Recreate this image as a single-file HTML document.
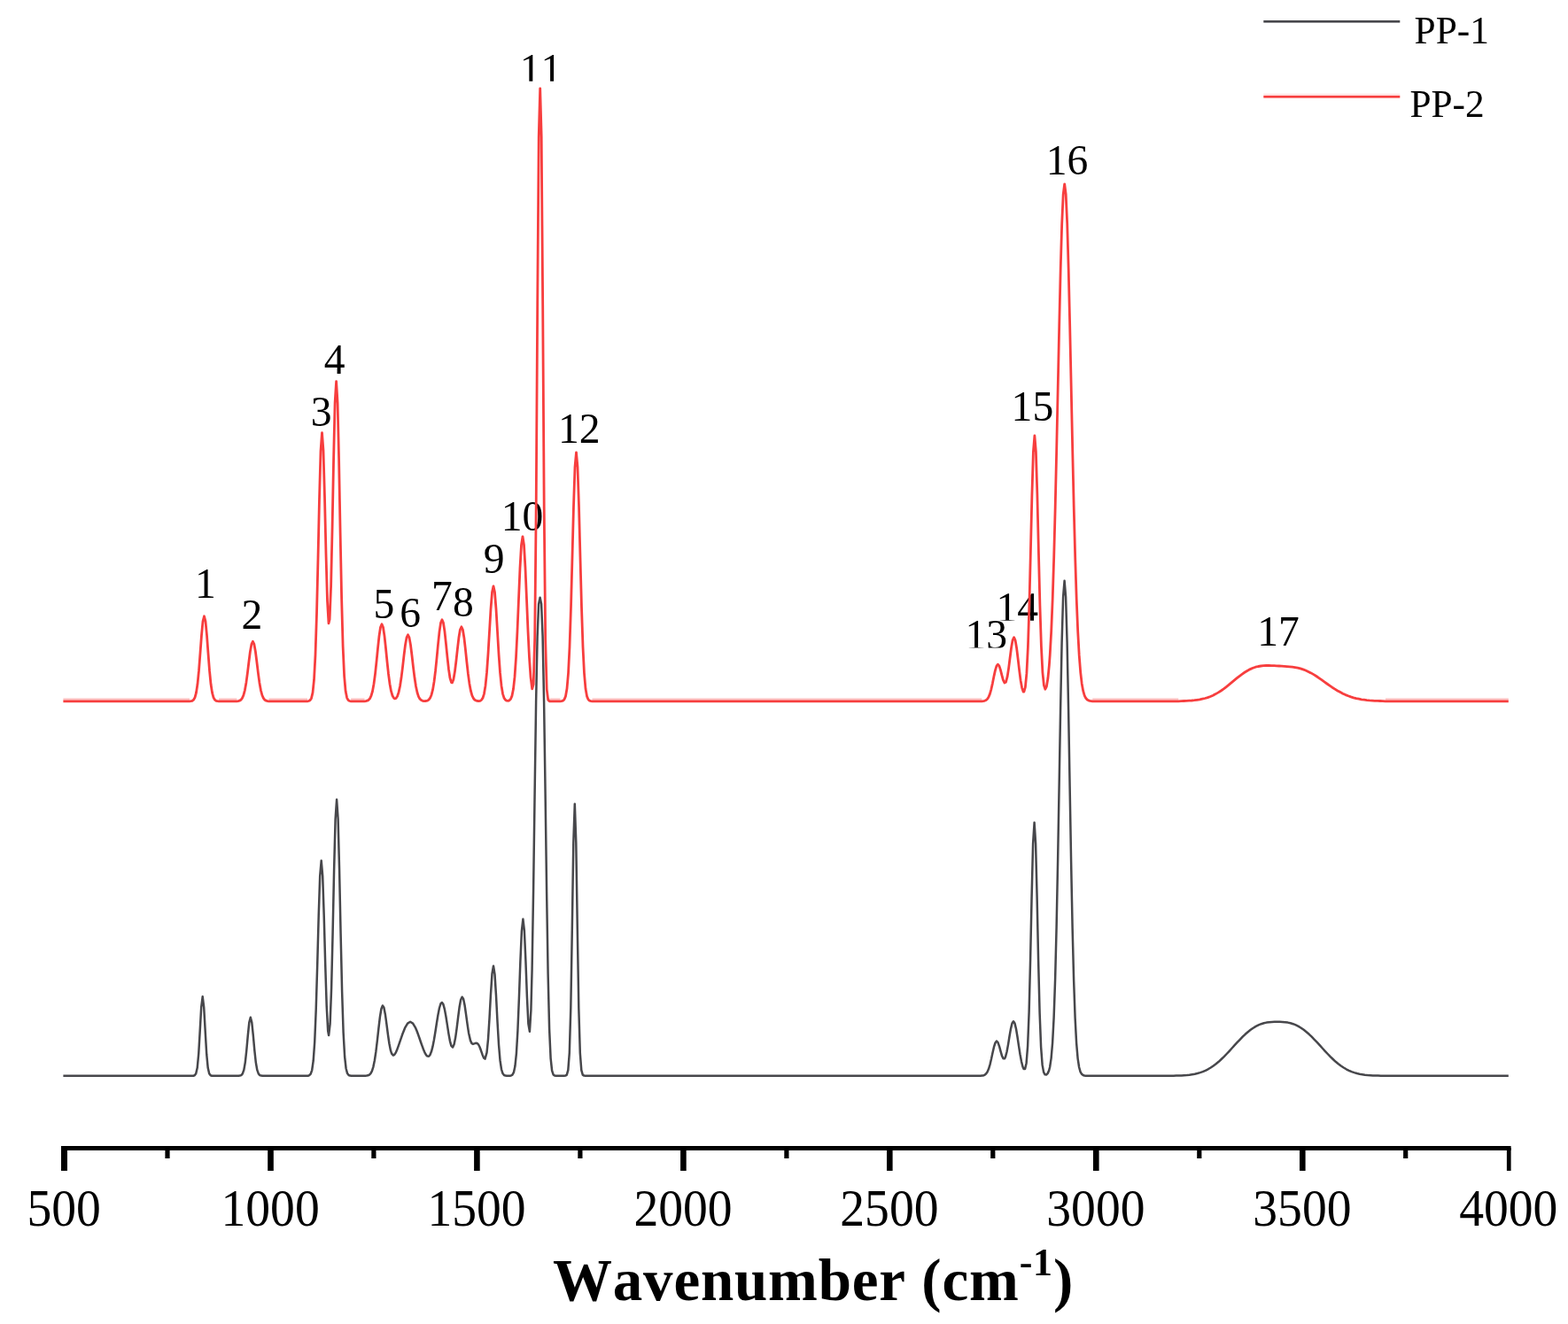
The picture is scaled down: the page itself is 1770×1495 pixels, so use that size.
<!DOCTYPE html>
<html lang="en">
<head>
<meta charset="utf-8">
<title>Wavenumber spectrum PP-1 / PP-2</title>
<style>
html,body{margin:0;padding:0;background:#fff;}
body{width:1770px;height:1495px;overflow:hidden;}
svg{display:block;}
text{font-family:"Liberation Serif","DejaVu Serif",serif;fill:#000;font-kerning:none;}
.lab{font-size:47.6px;text-anchor:middle;}
.tick{font-size:59.5px;text-anchor:middle;}
.leg{font-size:44.5px;}
.ttl{font-size:67px;font-weight:bold;letter-spacing:0.8px;font-kerning:none;}
</style>
</head>
<body>
<svg width="1770" height="1495" viewBox="0 0 1770 1495">
<rect width="1770" height="1495" fill="#fff"/>
<g fill="#000">
<rect x="69.0" y="1294" width="1636.6" height="5"/>
<rect x="69.0" y="1296" width="7.0" height="26"/>
<rect x="186.4" y="1296" width="5.2" height="12"/>
<rect x="302.2" y="1296" width="6.6" height="26"/>
<rect x="419.3" y="1296" width="5.2" height="12"/>
<rect x="535.1" y="1296" width="6.6" height="26"/>
<rect x="652.3" y="1296" width="5.2" height="12"/>
<rect x="768.1" y="1296" width="6.6" height="26"/>
<rect x="885.3" y="1296" width="5.2" height="12"/>
<rect x="1001.0" y="1296" width="6.6" height="26"/>
<rect x="1118.2" y="1296" width="5.2" height="12"/>
<rect x="1234.0" y="1296" width="6.6" height="26"/>
<rect x="1351.2" y="1296" width="5.2" height="12"/>
<rect x="1467.0" y="1296" width="6.6" height="26"/>
<rect x="1584.1" y="1296" width="5.2" height="12"/>
<rect x="1700.9" y="1296" width="4.7" height="26"/>
</g>
<text class="tick" transform="translate(72.1 1383.8) scale(0.935 1)">500</text>
<text class="tick" transform="translate(305.1 1383.8) scale(0.935 1)">1000</text>
<text class="tick" transform="translate(538.0 1383.8) scale(0.935 1)">1500</text>
<text class="tick" transform="translate(771.0 1383.8) scale(0.935 1)">2000</text>
<text class="tick" transform="translate(1003.9 1383.8) scale(0.935 1)">2500</text>
<text class="tick" transform="translate(1236.9 1383.8) scale(0.935 1)">3000</text>
<text class="tick" transform="translate(1469.9 1383.8) scale(0.935 1)">3500</text>
<text class="tick" transform="translate(1702.8 1383.8) scale(0.935 1)">4000</text>
<text class="lab" x="231.8" y="674.6">1</text>
<text class="lab" x="284.4" y="710.0">2</text>
<text class="lab" x="362.6" y="481.0">3</text>
<text class="lab" x="377.7" y="421.5">4</text>
<text class="lab" x="433.4" y="698.0">5</text>
<text class="lab" x="463.2" y="707.6">6</text>
<text class="lab" x="499.0" y="689.0">7</text>
<text class="lab" x="523.0" y="695.8">8</text>
<text class="lab" x="557.6" y="646.6">9</text>
<text class="lab" x="589.5" y="599.4">10</text>
<svg x="570.6" y="60.9" width="80" height="30.9" overflow="hidden"><text class="lab" x="40" y="32.9">11</text></svg>
<text class="lab" x="653.7" y="499.7">12</text>
<svg x="1073.3" y="701.1" width="80" height="30.5" overflow="hidden"><text class="lab" x="40" y="31.8">13</text></svg>
<svg x="1108.2" y="670.2" width="80" height="30.5" overflow="hidden"><text class="lab" x="40" y="32.0">14</text></svg>
<text class="lab" x="1165.4" y="474.6">15</text>
<text class="lab" x="1204.6" y="197.4">16</text>
<text class="lab" x="1443.1" y="728.6">17</text>
<path d="M71.4 1214.8 L218.2 1214.8 L219.7 1214.3 L221.2 1212.3 L222.7 1205.8 L224.2 1190.2 L225.7 1164.4 L227.2 1137.3 L228.7 1125.3 L230.2 1137.3 L231.7 1164.4 L233.2 1190.2 L234.7 1205.8 L236.2 1212.3 L237.7 1214.3 L239.2 1214.8 L269.3 1214.8 L270.8 1214.6 L272.3 1214.1 L273.8 1212.4 L275.3 1208.2 L276.8 1199.6 L278.3 1185.9 L279.8 1169.1 L281.3 1154.6 L282.8 1148.8 L284.3 1154.6 L285.8 1169.1 L287.3 1185.9 L288.8 1199.6 L290.3 1208.2 L291.8 1212.4 L293.3 1214.1 L294.8 1214.6 L296.3 1214.8 L347.7 1214.8 L349.2 1214.2 L350.7 1212.7 L352.2 1208.3 L353.7 1197.8 L355.2 1176.6 L356.7 1140.4 L358.2 1089.9 L359.7 1034.0 L361.2 989.1 L362.7 971.8 L364.2 989.0 L365.7 1033.7 L367.2 1088.6 L368.7 1136.0 L370.2 1164.1 L371.1 1169.1 L372.6 1156.0 L374.1 1115.9 L375.6 1053.4 L377.1 982.4 L378.6 925.0 L380.1 902.8 L381.6 925.0 L383.1 982.7 L384.6 1054.5 L386.1 1119.3 L387.6 1165.7 L389.1 1193.0 L390.6 1206.5 L392.1 1212.1 L393.6 1214.0 L395.1 1214.6 L396.6 1214.8 L412.4 1214.8 L413.9 1214.6 L415.4 1214.3 L416.9 1213.6 L418.4 1212.1 L419.9 1209.3 L421.4 1204.6 L422.9 1197.3 L424.4 1187.2 L425.9 1174.6 L427.4 1161.0 L428.9 1148.4 L430.4 1139.3 L431.9 1135.5 L433.4 1137.8 L434.9 1145.4 L436.4 1156.3 L437.9 1168.0 L439.4 1178.3 L440.9 1185.9 L442.1 1189.7 L443.9 1191.7 L445.1 1191.2 L446.9 1188.3 L448.1 1185.6 L449.9 1180.6 L451.1 1177.1 L452.9 1171.8 L454.1 1168.3 L457.1 1160.7 L460.1 1155.6 L463.1 1153.8 L466.1 1155.6 L469.1 1160.7 L470.4 1163.8 L472.1 1168.3 L473.4 1172.0 L475.1 1177.0 L476.4 1180.7 L478.1 1185.3 L479.4 1188.3 L481.1 1191.3 L482.4 1192.6 L484.1 1192.7 L485.4 1191.2 L486.9 1187.6 L488.4 1181.9 L489.9 1174.3 L491.4 1165.2 L492.9 1155.5 L494.4 1146.2 L495.9 1138.5 L497.4 1133.5 L498.9 1132.0 L500.4 1134.1 L501.9 1139.6 L503.4 1147.8 L504.9 1157.4 L506.4 1167.1 L507.9 1175.3 L509.4 1180.8 L511.1 1182.5 L512.6 1179.3 L514.1 1171.8 L515.6 1161.1 L517.1 1148.8 L518.6 1137.3 L520.1 1129.0 L521.6 1125.7 L523.1 1128.0 L524.6 1135.3 L526.1 1145.6 L527.6 1156.7 L529.1 1166.5 L531.0 1174.9 L532.5 1178.1 L534.0 1178.9 L535.5 1178.4 L537.0 1177.8 L538.5 1177.9 L540.0 1179.3 L541.5 1182.2 L543.0 1186.3 L544.5 1190.7 L546.0 1194.4 L547.5 1195.6 L549.5 1188.6 L551.0 1173.6 L552.5 1150.0 L554.0 1122.3 L555.5 1099.4 L557.0 1090.7 L558.5 1100.2 L560.0 1124.2 L561.5 1153.5 L563.0 1179.3 L564.5 1197.2 L566.0 1207.3 L567.5 1212.1 L569.0 1214.0 L570.5 1214.6 L572.0 1214.8 L575.4 1214.8 L576.9 1214.5 L578.4 1213.6 L579.9 1210.9 L581.4 1204.1 L582.9 1189.6 L584.4 1163.9 L585.9 1127.0 L587.4 1085.2 L588.9 1051.1 L590.4 1037.8 L591.9 1051.0 L593.4 1084.8 L594.9 1125.1 L596.4 1156.1 L597.9 1164.8 L599.4 1141.0 L600.6 1094.5 L602.1 1005.1 L603.6 896.2 L605.1 793.1 L606.6 718.7 L608.1 682.1 L609.6 674.8 L611.1 682.1 L612.6 718.7 L614.1 793.2 L615.6 896.6 L617.1 1006.7 L618.6 1099.4 L620.1 1161.6 L621.6 1194.8 L623.1 1208.8 L624.6 1213.4 L626.1 1214.5 L627.6 1214.8 L636.8 1214.8 L638.3 1214.6 L639.8 1213.6 L641.3 1208.3 L642.8 1188.8 L644.3 1138.2 L645.8 1049.2 L647.3 951.7 L648.8 907.8 L650.3 951.7 L651.8 1049.2 L653.3 1138.2 L654.8 1188.8 L656.3 1208.3 L657.8 1213.6 L659.3 1214.6 L660.8 1214.8 L1107.0 1214.8 L1108.5 1214.6 L1110.0 1214.4 L1111.5 1213.8 L1113.0 1212.6 L1114.5 1210.5 L1116.0 1207.1 L1117.5 1202.1 L1119.0 1195.8 L1120.5 1188.8 L1122.0 1182.2 L1123.5 1177.5 L1125.0 1175.6 L1126.5 1177.1 L1128.0 1181.3 L1129.5 1186.9 L1131.0 1192.1 L1132.5 1195.2 L1134.0 1195.3 L1135.0 1193.4 L1136.5 1187.8 L1138.0 1179.6 L1139.5 1170.2 L1141.0 1161.6 L1142.5 1155.5 L1144.0 1153.3 L1145.5 1155.5 L1147.0 1161.8 L1148.5 1170.8 L1150.0 1180.9 L1151.5 1190.5 L1153.0 1198.6 L1154.5 1204.5 L1155.6 1207.0 L1157.1 1207.1 L1158.6 1200.4 L1160.1 1181.3 L1161.6 1143.1 L1163.1 1083.7 L1164.6 1012.6 L1166.1 952.6 L1167.6 928.8 L1169.1 952.6 L1170.6 1012.7 L1172.1 1083.9 L1173.6 1143.5 L1175.1 1182.1 L1176.6 1202.2 L1178.1 1210.6 L1179.6 1213.3 L1181.1 1213.5 L1182.6 1212.1 L1184.1 1208.9 L1185.1 1205.0 L1186.6 1195.1 L1188.1 1177.6 L1189.6 1149.1 L1191.1 1106.2 L1192.6 1047.1 L1194.1 972.5 L1195.6 887.4 L1197.1 801.1 L1198.6 725.8 L1200.1 674.2 L1201.6 655.8 L1203.1 674.2 L1204.6 725.8 L1206.1 801.1 L1207.6 887.4 L1209.1 972.5 L1210.6 1047.1 L1212.1 1106.2 L1213.6 1149.1 L1215.1 1177.6 L1216.6 1195.1 L1218.1 1205.0 L1219.6 1210.3 L1221.1 1212.8 L1222.6 1214.0 L1224.1 1214.5 L1225.6 1214.8 L1324.7 1214.8 L1327.7 1214.6 L1330.7 1214.5 L1333.7 1214.4 L1336.7 1214.2 L1339.7 1214.0 L1342.7 1213.7 L1345.7 1213.2 L1348.7 1212.7 L1351.7 1212.0 L1354.7 1211.1 L1357.7 1210.1 L1360.7 1208.8 L1363.7 1207.3 L1366.7 1205.5 L1369.7 1203.5 L1372.7 1201.3 L1375.7 1198.8 L1378.7 1196.0 L1381.7 1193.1 L1384.7 1190.0 L1387.7 1186.8 L1390.7 1183.5 L1393.7 1180.2 L1396.7 1176.9 L1399.7 1173.8 L1402.7 1170.7 L1405.7 1167.8 L1408.7 1165.2 L1411.7 1162.8 L1414.7 1160.7 L1417.7 1158.9 L1420.7 1157.4 L1423.7 1156.2 L1426.7 1155.3 L1429.7 1154.6 L1432.7 1154.2 L1435.7 1153.9 L1438.7 1153.8 L1441.7 1153.8 L1444.7 1153.8 L1447.7 1153.9 L1450.7 1154.2 L1453.7 1154.6 L1456.7 1155.3 L1459.7 1156.2 L1462.7 1157.4 L1465.7 1158.9 L1468.7 1160.7 L1471.7 1162.8 L1474.7 1165.2 L1477.7 1167.8 L1480.7 1170.7 L1483.7 1173.8 L1486.7 1176.9 L1489.7 1180.2 L1492.7 1183.5 L1495.7 1186.8 L1498.7 1190.0 L1501.7 1193.1 L1504.7 1196.0 L1507.7 1198.8 L1510.7 1201.3 L1513.7 1203.5 L1516.7 1205.5 L1519.7 1207.3 L1522.7 1208.8 L1525.7 1210.1 L1528.7 1211.1 L1531.7 1212.0 L1534.7 1212.7 L1537.7 1213.2 L1540.7 1213.7 L1543.7 1214.0 L1546.7 1214.2 L1549.7 1214.4 L1552.7 1214.5 L1555.7 1214.6 L1558.7 1214.8 L1702.8 1214.8" fill="none" stroke="#47474b" stroke-width="2.5" stroke-linejoin="round" stroke-linecap="butt"/>
<rect x="71.4" y="788.4" width="142.6" height="2.3" fill="#f73e3e" fill-opacity="0.3"/>
<rect x="247.0" y="788.4" width="20.4" height="2.3" fill="#f73e3e" fill-opacity="0.3"/>
<rect x="303.4" y="788.4" width="43.6" height="2.3" fill="#f73e3e" fill-opacity="0.3"/>
<rect x="396.1" y="788.4" width="15.4" height="2.3" fill="#f73e3e" fill-opacity="0.3"/>
<rect x="620.2" y="788.4" width="12.3" height="2.3" fill="#f73e3e" fill-opacity="0.3"/>
<rect x="668.5" y="788.4" width="439.9" height="2.3" fill="#f73e3e" fill-opacity="0.3"/>
<rect x="1233.2" y="788.4" width="97.1" height="2.3" fill="#f73e3e" fill-opacity="0.3"/>
<rect x="1563.9" y="788.4" width="138.9" height="2.3" fill="#f73e3e" fill-opacity="0.3"/>
<path d="M71.4 791.8 L214.0 791.8 L215.5 791.6 L217.0 791.3 L218.5 790.2 L220.0 787.6 L221.5 782.1 L223.0 772.3 L224.5 757.2 L226.0 737.7 L227.5 717.4 L229.0 701.7 L230.5 695.8 L232.0 701.7 L233.5 717.4 L235.0 737.7 L236.5 757.2 L238.0 772.3 L239.5 782.1 L241.0 787.6 L242.5 790.2 L244.0 791.3 L245.5 791.6 L247.0 791.8 L267.4 791.8 L268.9 791.6 L270.4 791.2 L271.9 790.3 L273.4 788.4 L274.9 785.0 L276.4 779.3 L277.9 770.9 L279.4 759.9 L280.9 747.5 L282.4 735.8 L283.9 727.4 L285.4 724.3 L286.9 727.4 L288.4 735.8 L289.9 747.5 L291.4 759.9 L292.9 770.9 L294.4 779.3 L295.9 785.0 L297.4 788.4 L298.9 790.3 L300.4 791.2 L301.9 791.6 L303.4 791.8 L347.0 791.8 L348.5 791.5 L350.0 790.8 L351.5 788.4 L353.0 782.1 L354.5 767.7 L356.0 739.6 L357.5 693.4 L359.0 630.9 L360.5 563.1 L362.0 509.4 L363.5 488.7 L365.0 508.9 L366.5 561.4 L368.0 625.5 L369.5 678.5 L371.0 703.8 L372.1 699.5 L373.6 662.1 L375.1 595.6 L376.6 517.9 L378.1 454.9 L379.6 430.7 L381.1 455.3 L382.6 519.3 L384.1 600.1 L385.6 674.6 L387.1 729.6 L388.6 763.1 L390.1 780.3 L391.6 787.8 L393.1 790.6 L394.6 791.5 L396.1 791.8 L411.5 791.8 L413.0 791.6 L414.5 791.2 L416.0 790.4 L417.5 788.8 L419.0 785.7 L420.5 780.5 L422.0 772.3 L423.5 761.1 L425.0 747.1 L426.5 732.0 L428.0 718.1 L429.5 708.3 L431.0 704.8 L432.5 708.3 L434.0 718.1 L435.5 732.0 L437.0 747.1 L438.5 761.0 L440.0 772.3 L441.5 780.4 L443.0 785.5 L444.5 788.1 L445.5 788.8 L447.0 788.5 L448.5 786.3 L450.0 781.9 L451.5 775.0 L453.0 765.3 L454.5 753.3 L456.0 740.2 L457.5 728.3 L459.0 719.9 L460.5 716.8 L462.0 719.9 L463.5 728.3 L465.0 740.2 L466.5 753.3 L468.0 765.3 L469.5 775.0 L471.0 782.0 L472.5 786.6 L474.0 789.2 L475.5 790.6 L477.0 791.3 L478.5 791.6 L479.5 791.6 L481.0 791.5 L482.5 791.1 L484.0 790.1 L485.5 788.2 L487.0 784.7 L488.5 778.9 L490.0 770.0 L491.5 758.0 L493.0 743.3 L494.5 727.6 L496.0 713.4 L497.5 703.4 L499.0 699.8 L500.5 703.4 L502.0 713.3 L503.5 727.3 L505.0 742.4 L506.5 755.9 L508.0 765.7 L509.5 770.6 L510.4 770.9 L511.9 767.2 L513.4 758.6 L514.9 746.5 L516.4 732.8 L517.9 720.1 L519.4 711.0 L520.9 707.8 L522.4 711.1 L523.9 720.2 L525.4 733.2 L526.9 747.5 L528.4 760.9 L529.9 771.9 L531.4 780.0 L532.9 785.3 L534.4 788.5 L535.9 790.3 L537.4 791.1 L538.9 791.5 L540.5 791.6 L542.0 791.3 L543.5 790.3 L545.0 788.1 L546.5 783.3 L548.0 774.2 L549.5 759.4 L551.0 738.4 L552.5 713.0 L554.0 687.7 L555.5 668.8 L557.0 661.8 L558.5 668.8 L560.0 687.7 L561.5 713.0 L563.0 738.4 L564.5 759.4 L566.0 774.2 L567.5 783.3 L569.0 788.1 L570.5 790.3 L572.0 791.2 L573.5 791.3 L575.0 790.8 L576.5 789.3 L578.0 785.6 L579.5 778.1 L581.0 764.4 L582.5 742.6 L584.0 712.4 L585.5 676.5 L587.0 641.4 L588.5 615.4 L590.0 605.8 L591.5 615.4 L593.0 641.4 L594.5 676.5 L596.0 712.4 L597.5 742.6 L599.0 764.3 L600.7 777.8 L602.2 772.6 L603.7 720.0 L605.2 572.3 L606.7 343.8 L608.2 154.5 L609.7 99.8 L611.2 154.6 L612.7 344.0 L614.2 573.1 L615.7 722.2 L617.2 778.1 L618.7 790.2 L620.2 791.8 L632.5 791.8 L634.0 791.6 L635.5 791.2 L637.0 789.8 L638.5 786.1 L640.0 777.5 L641.5 760.4 L643.0 730.4 L644.5 685.6 L646.0 629.3 L647.5 571.5 L649.0 527.4 L650.5 510.8 L652.0 527.4 L653.5 571.5 L655.0 629.3 L656.5 685.6 L658.0 730.4 L659.5 760.4 L661.0 777.5 L662.5 786.1 L664.0 789.8 L665.5 791.2 L667.0 791.6 L668.5 791.8 L1108.4 791.8 L1109.9 791.6 L1111.4 791.3 L1112.9 790.7 L1114.4 789.5 L1115.9 787.2 L1117.4 783.6 L1118.9 778.3 L1120.4 771.6 L1121.9 764.1 L1123.4 757.1 L1124.9 752.1 L1126.4 750.2 L1127.9 751.9 L1129.4 756.4 L1130.9 762.4 L1132.4 767.9 L1133.9 771.0 L1135.4 770.3 L1137.1 764.2 L1138.6 754.6 L1140.1 742.8 L1141.6 731.3 L1143.1 722.8 L1144.6 719.7 L1146.1 723.0 L1147.6 731.7 L1149.1 743.8 L1150.6 756.7 L1152.1 768.2 L1153.6 776.6 L1155.1 781.0 L1155.9 781.1 L1157.4 775.9 L1158.9 760.4 L1160.4 730.4 L1161.9 683.5 L1163.4 622.8 L1164.9 559.3 L1166.4 510.3 L1167.9 491.8 L1169.4 510.3 L1170.9 559.2 L1172.4 622.5 L1173.9 683.1 L1175.4 729.6 L1176.9 759.1 L1178.4 773.9 L1179.9 778.2 L1181.4 775.1 L1182.9 766.1 L1184.4 750.8 L1185.2 739.8 L1186.7 712.8 L1188.2 676.2 L1189.7 629.4 L1191.2 572.6 L1192.7 507.5 L1194.2 437.6 L1195.7 367.7 L1197.2 304.0 L1198.7 252.7 L1200.2 219.4 L1201.7 207.8 L1203.2 219.4 L1204.7 252.7 L1206.2 304.0 L1207.7 367.7 L1209.2 437.6 L1210.7 507.5 L1212.2 572.6 L1213.7 629.4 L1215.2 676.2 L1216.7 712.8 L1218.2 739.9 L1219.7 759.0 L1221.2 771.9 L1222.7 780.2 L1224.2 785.3 L1225.7 788.3 L1227.2 790.0 L1228.7 790.9 L1230.2 791.4 L1231.7 791.6 L1233.2 791.8 L1330.3 791.8 L1333.3 791.6 L1336.3 791.5 L1339.3 791.4 L1342.3 791.2 L1345.3 791.0 L1348.3 790.7 L1351.3 790.3 L1354.3 789.9 L1357.3 789.2 L1360.3 788.5 L1363.3 787.6 L1366.3 786.5 L1369.3 785.2 L1372.3 783.6 L1375.3 781.9 L1378.3 780.0 L1381.3 777.9 L1384.3 775.6 L1387.3 773.2 L1390.3 770.7 L1393.3 768.2 L1396.3 765.7 L1399.3 763.3 L1402.3 761.1 L1405.3 759.0 L1408.3 757.2 L1411.3 755.6 L1414.3 754.3 L1417.3 753.2 L1420.3 752.5 L1423.3 752.0 L1426.3 751.7 L1429.3 751.5 L1432.3 751.5 L1435.3 751.6 L1438.3 751.7 L1440.9 751.9 L1443.9 752.0 L1446.9 752.2 L1449.9 752.4 L1452.9 752.6 L1455.9 752.8 L1458.9 753.1 L1461.9 753.6 L1464.9 754.2 L1467.9 754.9 L1470.9 755.9 L1473.9 757.0 L1476.9 758.4 L1479.9 759.9 L1482.9 761.6 L1485.9 763.5 L1488.9 765.6 L1491.9 767.7 L1494.9 769.8 L1497.9 772.0 L1500.9 774.1 L1503.9 776.2 L1506.9 778.1 L1509.9 780.0 L1512.9 781.6 L1515.9 783.2 L1518.9 784.6 L1521.9 785.8 L1524.9 786.9 L1527.9 787.8 L1530.9 788.6 L1533.9 789.2 L1536.9 789.8 L1539.9 790.2 L1542.9 790.6 L1545.9 790.9 L1548.9 791.1 L1551.9 791.3 L1554.9 791.4 L1557.9 791.5 L1560.9 791.6 L1563.9 791.8 L1702.8 791.8" fill="none" stroke="#f73e3e" stroke-width="2.8" stroke-linejoin="round" stroke-linecap="butt"/>
<rect x="1426.3" y="23.0" width="154" height="2.6" fill="#47474b"/>
<rect x="1426.3" y="105.8" width="154" height="2.2" fill="#f73e3e" fill-opacity="0.16"/>
<rect x="1426.3" y="108.0" width="154" height="2.6" fill="#f73e3e"/>
<text class="leg" x="1596.6" y="49.3" textLength="84.3" lengthAdjust="spacingAndGlyphs">PP-1</text>
<text class="leg" x="1591.4" y="132.2" textLength="84.3" lengthAdjust="spacingAndGlyphs">PP-2</text>
<text class="ttl" x="624" y="1468.3">Wavenumber (cm<tspan dy="-28.5" font-size="44">-1</tspan><tspan dy="28.5" dx="0">)</tspan></text>
</svg>
</body>
</html>
